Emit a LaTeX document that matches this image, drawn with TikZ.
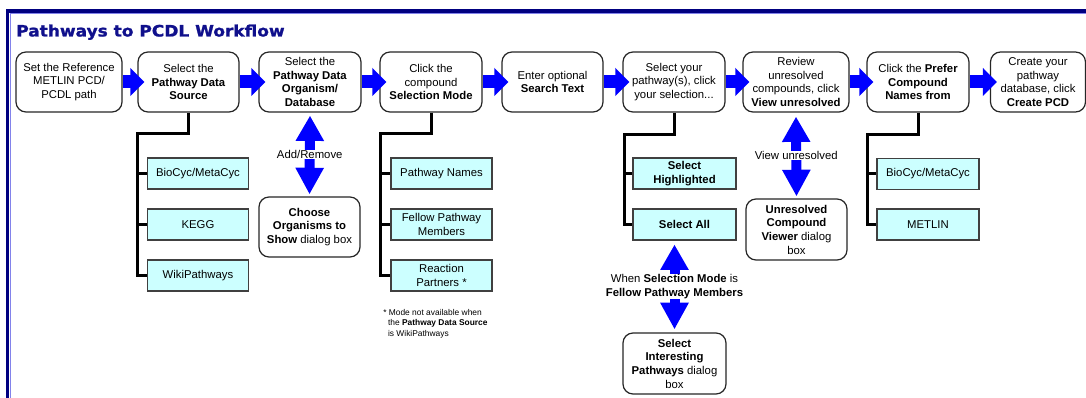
\documentclass[tikz,border=0pt]{standalone}
\usepackage{graphicx}
\usepackage{fontspec}
\setmainfont{Liberation Sans}
\newfontfamily\titlefont{DejaVu Sans}[BoldFeatures={FakeBold=1.2}]
\usetikzlibrary{arrows.meta,calc}
\definecolor{navy}{RGB}{16,16,140}
\definecolor{framenavy}{RGB}{0,0,128}
\definecolor{framelight}{RGB}{130,130,235}
\definecolor{cyanfill}{RGB}{204,255,255}
\begin{document}
\begin{tikzpicture}[x=0.75pt,y=-0.75pt,
  txt/.style={font=\fontsize{8.5}{10.25}\selectfont},
  mainbox/.style={txt,draw=black!85,line width=0.9pt,rounded corners=7.5pt,fill=white,minimum height=45pt,inner sep=1pt,align=center},
  optbox/.style={txt,draw=black!75,line width=0.8pt,fill=cyanfill,minimum height=23.25pt,minimum width=75.75pt,inner sep=1pt,align=center},
  harrow/.style={draw=blue,line width=9.75pt,-{Triangle[length=10.5pt,width=20.5pt]}},
  varrow/.style={draw=blue,line width=7.5pt,{Triangle[length=19pt,width=20pt]}-{Triangle[length=20pt,width=20pt]}},
  treeline/.style={draw=black,line width=2.25pt,line join=miter},
  arrlabel/.style={txt,fill=white,inner sep=0.6pt,align=center}]
\useasboundingbox (0,0) rectangle (1086,398);
\clip (0,0) rectangle (1086,398);
% frame
\draw[framenavy,line width=2.6pt] (7.5,11) rectangle (1300,600);
\draw[framelight,line width=0.6pt] (9.9,13.4) rectangle (1300,600);
% title
\node[anchor=base west,text=navy,inner sep=0,font=\titlefont\bfseries\fontsize{11.8}{13}\selectfont] (title) at (16,36.5) {\scalebox{1.08}[1]{Pathways to PCDL Workflow}};
% main boxes
\node[mainbox,minimum width=79.5pt] (b1) at (69,82) {Set the Reference\\METLIN PCD/\\PCDL path};
\node[mainbox,minimum width=75.75pt] (b2) at (188.5,82) {Select the\\\textbf{Pathway Data}\\\textbf{Source}};
\node[mainbox,minimum width=76.5pt] (b3) at (310,82) {Select the\\\textbf{Pathway Data}\\\textbf{Organism/}\\\textbf{Database}};
\node[mainbox,minimum width=76.5pt] (b4) at (431,82) {Click the\\compound\\\textbf{Selection Mode}};
\node[mainbox,minimum width=75.75pt] (b5) at (552.5,82) {Enter optional\\\textbf{Search Text}};
\node[mainbox,minimum width=76.5pt] (b6) at (674,82) {Select your\\pathway(s), click\\your selection...};
\node[mainbox,minimum width=79.5pt] (b7) at (796,82) {Review\\unresolved\\compounds, click\\\textbf{View unresolved}};
\node[mainbox,minimum width=76.5pt] (b8) at (918,82) {Click the \textbf{Prefer}\\\textbf{Compound}\\\textbf{Names from}};
\node[mainbox,minimum width=71.25pt] (b9) at (1038,82) {Create your\\pathway\\database, click\\\textbf{Create PCD}};
% dialog boxes
\node[mainbox,minimum width=75.75pt] (choose) at (309.5,227) {\textbf{Choose}\\\textbf{Organisms to}\\\textbf{Show} dialog box};
\node[mainbox,minimum width=75.75pt,minimum height=45.75pt] (unres) at (796.5,229.5) {\textbf{Unresolved}\\\textbf{Compound}\\\textbf{Viewer} dialog\\box};
\node[mainbox,minimum width=77.25pt,minimum height=45.75pt] (inter) at (674.5,363.5) {\textbf{Select}\\\textbf{Interesting}\\\textbf{Pathways} dialog\\box};
% option boxes
\node[optbox] (s1) at (198,173.5) {BioCyc/MetaCyc};
\node[optbox] (s2) at (198,224.5) {KEGG};
\node[optbox] (s3) at (198,275.5) {WikiPathways};
\node[optbox] (m1) at (441.5,173.5) {Pathway Names};
\node[optbox] (m2) at (441.5,224.5) {Fellow Pathway\\Members};
\node[optbox] (m3) at (441.5,275.5) {Reaction\\Partners *};
\node[optbox,minimum width=77.25pt] (h1) at (684.5,173.5) {\textbf{Select}\\\textbf{Highlighted}};
\node[optbox,minimum width=77.25pt] (h2) at (684.5,224.5) {\textbf{Select All}};
\node[optbox,minimum width=76.5pt] (p1) at (928,174) {BioCyc/MetaCyc};
\node[optbox,minimum width=76.5pt] (p2) at (928,224.5) {METLIN};
% footnote
\node[anchor=west,align=left,inner sep=0,font=\fontsize{6.3}{7.9}\selectfont] (foot) at (383,323.5) {* Mode not available when\\\hspace*{3.6pt}the \textbf{Pathway Data Source}\\\hspace*{3.6pt}is WikiPathways};
% tree lines
\coordinate (t1) at (137,134);
\coordinate (t2) at (380,134);
\coordinate (t3) at (624,135);
\coordinate (t4) at (867,135);
\draw[treeline] (b2.south) -- (b2.south |- t1) -- (t1) -- (t1 |- s3.west) -- (s3.west);
\draw[treeline] (t1 |- s1.west) -- (s1.west);
\draw[treeline] (t1 |- s2.west) -- (s2.west);
\draw[treeline] (b4.south) -- (b4.south |- t2) -- (t2) -- (t2 |- m3.west) -- (m3.west);
\draw[treeline] (t2 |- m1.west) -- (m1.west);
\draw[treeline] (t2 |- m2.west) -- (m2.west);
\draw[treeline] (b6.south) -- (b6.south |- t3) -- (t3) -- (t3 |- h2.west) -- (h2.west);
\draw[treeline] (t3 |- h1.west) -- (h1.west);
\draw[treeline] (b8.south) -- (b8.south |- t4) -- (t4) -- (t4 |- p2.west) -- (p2.west);
\draw[treeline] (t4 |- p1.west) -- (p1.west);
% horizontal arrows
\draw[harrow] (b1.east) -- ($(b2.west)+(7,0)$);
\draw[harrow] (b2.east) -- ($(b3.west)+(7,0)$);
\draw[harrow] (b3.east) -- ($(b4.west)+(7,0)$);
\draw[harrow] (b4.east) -- ($(b5.west)+(7,0)$);
\draw[harrow] (b5.east) -- ($(b6.west)+(7,0)$);
\draw[harrow] (b6.east) -- ($(b7.west)+(7,0)$);
\draw[harrow] (b7.east) -- ($(b8.west)+(7,0)$);
\draw[harrow] (b8.east) -- ($(b9.west)+(7,0)$);
% vertical double arrows
\draw[varrow] ($(b3.south)+(0,3)$) -- ($(choose.north)+(0,-2)$);
\node[arrlabel] (lab1) at ($(b3.south)!0.5!(choose.north)$) {Add/Remove};
\draw[varrow] ($(inter.north |- h2.south)+(0,4)$) -- ($(inter.north)+(0,-3)$);
\node[arrlabel] (lab2) at ($(inter.north |- h2.south)!0.5!(inter.north)$) {When \textbf{Selection Mode} is\\\textbf{Fellow Pathway Members}};
\draw[varrow] ($(b7.south)+(0,4)$) -- ($(unres.north)+(0,-2)$);
\node[arrlabel] (lab3) at ($(b7.south)!0.5!(unres.north)$) {View unresolved};
\end{tikzpicture}
\end{document}
